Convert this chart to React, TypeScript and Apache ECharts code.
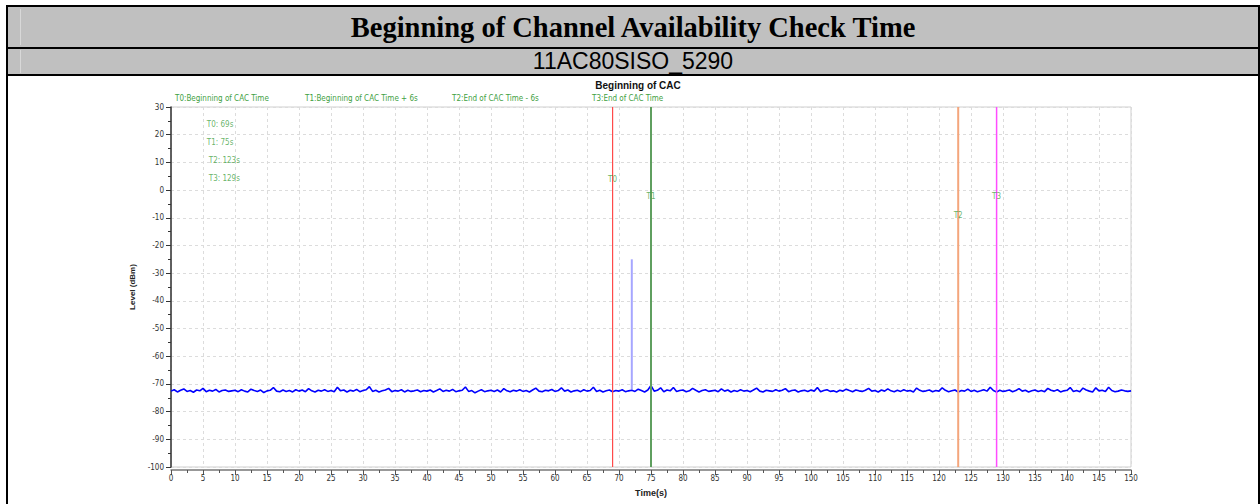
import React, { useEffect, useRef } from "react";
import * as echarts from "echarts";

const TITLE = "Beginning of Channel Availability Check Time";
const SUBTITLE = "11AC80SISO_5290";
const CHART_TITLE = "Beginning of CAC";
const LEGEND_TEXTS = ["T0:Beginning of CAC Time", "T1:Beginning of CAC Time + 6s", "T2:End of CAC Time - 6s", "T3:End of CAC Time"];
const MARKER_NAMES = ["T0", "T1", "T2", "T3"];
const MARKER_TIMES = [69, 75, 123, 129];
const MARKER_COLORS = ["#ff4a4a", "#5f9f5f", "#f4a67c", "#ff4cff"];
const MARKER_WIDTHS = [1.2, 2, 2, 1.5];
const MARKER_LABEL_Y = [4, -2.4, -9, -2.4];
const INFO_TEXTS = ["T0: 69s", "T1: 75s", "T2: 123s", "T3: 129s"];
const INFO_Y = [23.6, 17.1, 10.6, 4.1];
const INFO_X = [5.6, 5.6, 5.9, 5.9];
const SPIKE_TIME = 72;
const SPIKE_TOP = -25;
const SPIKE_BASE = -72;
const SAMPLE_STEP = 0.5;

const NOISE = [
  -72.6,-72.1,-72.9,-72.3,-71.8,-72.7,-72.4,-73.0,-72.2,-72.5,-71.6,-72.8,-72.3,-72.6,-72.0,-72.9,-72.4,-72.2,-72.7,-72.5,
  -72.3,-72.8,-72.1,-72.6,-72.9,-71.9,-72.4,-72.7,-72.2,-73.1,-72.5,-72.3,-71.3,-72.6,-72.8,-72.2,-72.7,-72.4,-72.9,-72.1,
  -72.6,-72.2,-72.8,-71.7,-72.5,-72.9,-72.3,-72.6,-72.1,-72.7,-72.4,-72.8,-71.2,-72.5,-72.2,-72.9,-72.3,-72.6,-72.0,-72.8,
  -72.4,-72.1,-71.0,-72.7,-72.3,-72.9,-72.5,-72.2,-71.6,-72.8,-72.4,-72.6,-72.1,-72.9,-72.3,-72.7,-72.5,-72.2,-72.8,-72.4,
  -72.6,-72.2,-72.9,-72.4,-71.8,-72.7,-72.3,-72.6,-72.0,-72.8,-72.5,-72.3,-71.1,-72.7,-72.4,-73.2,-72.6,-72.1,-72.8,-72.5,
  -72.3,-72.7,-72.2,-72.9,-71.7,-72.5,-72.8,-72.3,-72.6,-72.1,-72.7,-72.4,-72.9,-72.2,-71.5,-72.6,-72.8,-72.3,-72.5,-72.0,
  -72.7,-72.4,-71.4,-72.6,-72.2,-72.9,-72.5,-72.3,-72.8,-72.1,-72.6,-72.4,-71.2,-72.7,-72.3,-72.9,-72.5,-72.2,-72.8,-72.4,
  -72.6,-72.1,-72.8,-72.5,-72.3,-72.7,-71.9,-72.4,-72.9,-72.2,-70.6,-72.6,-72.3,-71.4,-72.8,-72.2,-72.5,-71.3,-72.7,-72.4,
  -72.2,-72.8,-72.5,-71.6,-72.3,-72.9,-72.4,-72.1,-72.7,-72.5,-72.3,-72.8,-71.8,-72.6,-72.2,-72.9,-72.4,-72.7,-72.1,-72.6,
  -72.4,-72.8,-72.2,-71.5,-72.6,-72.9,-72.3,-72.5,-72.7,-72.1,-72.6,-72.3,-71.7,-72.8,-72.4,-72.2,-72.9,-72.5,-72.3,-72.7,
  -72.2,-72.6,-71.3,-72.8,-72.4,-72.1,-72.7,-72.5,-72.9,-72.3,-72.6,-71.9,-72.4,-72.8,-72.2,-72.5,-72.7,-72.3,-71.6,-72.6,
  -72.4,-72.9,-72.2,-72.6,-71.8,-72.5,-72.8,-72.3,-72.7,-72.1,-72.6,-72.4,-72.9,-71.5,-72.3,-72.7,-72.5,-72.2,-72.8,-72.4,
  -72.6,-71.4,-72.3,-72.8,-72.5,-72.2,-72.9,-72.4,-72.6,-71.9,-72.7,-72.3,-72.8,-72.5,-72.1,-72.6,-71.2,-72.4,-72.9,-72.3,
  -72.7,-72.5,-72.2,-72.8,-72.4,-71.7,-72.6,-72.3,-72.9,-72.5,-72.2,-72.7,-72.4,-72.8,-71.6,-72.3,-72.6,-72.1,-72.9,-72.5,
  -72.3,-71.3,-72.7,-72.4,-72.8,-71.5,-72.2,-72.6,-72.9,-71.4,-72.5,-72.3,-72.7,-71.2,-72.4,-72.8,-72.6,-72.2,-72.5,-72.7,
  -72.5,
];

const Y_MIN = -100, Y_MAX = 30, Y_INT = 10;
const X_MIN = 0, X_MAX = 150, X_INT = 5;

const GREEN = "#3f9f3f";
const NARROW = "'Liberation Sans Narrow', 'DejaVu Sans Condensed', Arial, sans-serif";

export default function App() {
  const ref = useRef<HTMLDivElement>(null);

  useEffect(() => {
    document.body.style.margin = "0";
    if (!ref.current) return;
    const chart = echarts.init(ref.current, null, { renderer: "svg" });

    const noiseData = NOISE.map((v, i) => [i * SAMPLE_STEP, v]);

    const markerSeries = MARKER_TIMES.map((t, i) => ({
      type: "line",
      name: MARKER_NAMES[i],
      data: [[t, Y_MIN], [t, Y_MAX]],
      symbol: "none",
      lineStyle: { color: MARKER_COLORS[i], width: MARKER_WIDTHS[i] },
      z: 4,
    }));

    const legendX = [175, 305, 452, 592];

    chart.setOption({
      animation: false,
      title: {
        text: CHART_TITLE,
        left: 633,
        top: 75,
        textAlign: "center",
        textStyle: { fontSize: 10, fontWeight: "bold", fontFamily: "Arial", color: "#111" },
      },
      graphic: LEGEND_TEXTS.map((t, i) => ({
        type: "text",
        x: legendX[i],
        y: 94,
        style: { text: t, fill: GREEN, fontSize: 8, fontFamily: NARROW },
      })),
      grid: {
        left: 171,
        right: 129,
        top: 107,
        bottom: 37,
        show: true,
        borderColor: "#cfcfcf",
        borderWidth: 1,
        backgroundColor: "#fff",
      },
      xAxis: {
        type: "value",
        min: X_MIN,
        max: X_MAX,
        interval: X_INT,
        offset: 3,
        name: "Time(s)",
        nameLocation: "middle",
        nameGap: 18,
        nameTextStyle: { fontSize: 9, fontWeight: "bold", fontFamily: "Arial", color: "#222" },
        axisLine: { onZero: false, lineStyle: { color: "#777", width: 1.5 } },
        axisTick: { length: 5, lineStyle: { color: "#555" } },
        minorTick: { show: true, splitNumber: 2, length: 3, lineStyle: { color: "#555" } },
        axisLabel: { fontSize: 8, color: "#333", fontFamily: NARROW, margin: 4 },
        splitLine: { show: true, lineStyle: { color: "#dcdcdc", type: [3, 3] } },
      },
      yAxis: {
        type: "value",
        min: Y_MIN,
        max: Y_MAX,
        interval: Y_INT,
        offset: 3,
        name: "Level (dBm)",
        nameLocation: "middle",
        nameRotate: 90,
        nameGap: 30,
        nameTextStyle: { fontSize: 8, fontWeight: "bold", fontFamily: "Arial", color: "#222" },
        axisLine: { show: true, lineStyle: { color: "#333", width: 1.5 } },
        axisTick: { show: true, length: 5, lineStyle: { color: "#333" } },
        minorTick: { show: true, splitNumber: 2, length: 3, lineStyle: { color: "#333" } },
        axisLabel: { fontSize: 8, color: "#333", fontFamily: NARROW, margin: 4 },
        splitLine: { show: true, lineStyle: { color: "#dcdcdc", type: [3, 3] } },
      },
      series: [
        {
          type: "line",
          name: "Trace",
          data: noiseData,
          symbol: "none",
          lineStyle: { color: "#0000ff", width: 1.6 },
          z: 3,
        },
        {
          type: "line",
          name: "Spike",
          data: [[SPIKE_TIME, SPIKE_BASE], [SPIKE_TIME, SPIKE_TOP]],
          symbol: "none",
          lineStyle: { color: "#a6a6ff", width: 2 },
          z: 2,
        },
        ...markerSeries,
        {
          type: "scatter",
          name: "MarkerLabels",
          symbolSize: 0,
          data: MARKER_TIMES.map((t, i) => ({ value: [t, MARKER_LABEL_Y[i]], name: MARKER_NAMES[i] })),
          label: {
            show: true,
            position: "inside",
            formatter: (p: any) => p.name,
            color: GREEN,
            fontSize: 8,
            fontFamily: NARROW,
          },
          z: 6,
        },
        {
          type: "scatter",
          name: "InfoTexts",
          symbolSize: 0,
          data: INFO_TEXTS.map((t, i) => ({ value: [INFO_X[i], INFO_Y[i]], name: t })),
          label: {
            show: true,
            position: "right",
            distance: 0,
            formatter: (p: any) => p.name,
            color: GREEN,
            fontSize: 8,
            fontFamily: NARROW,
          },
          z: 6,
        },
      ],
    });
    return () => chart.dispose();
  }, []);

  const black = "#000";
  return (
    <div style={{ position: "relative", width: 1260, height: 504, overflow: "hidden", background: "#fff" }}>
      <div ref={ref} style={{ position: "absolute", left: 0, top: 0, width: 1260, height: 504 }} />
      <div style={{ position: "absolute", left: 8, top: 7, width: 1250, height: 40, background: "#c0c0c0" }} />
      <div style={{ position: "absolute", left: 8, top: 49, width: 1250, height: 25, background: "#c0c0c0" }} />
      <div style={{ position: "absolute", left: 20, top: 9, width: 1, height: 36, background: "#d8d8d8" }} />
      <div style={{ position: "absolute", left: 20, top: 50, width: 1, height: 23, background: "#d8d8d8" }} />
      <div style={{ position: "absolute", left: 6, top: 5, width: 1254, height: 2, background: black }} />
      <div style={{ position: "absolute", left: 6, top: 47, width: 1254, height: 2, background: black }} />
      <div style={{ position: "absolute", left: 6, top: 74, width: 1254, height: 2, background: black }} />
      <div style={{ position: "absolute", left: 6, top: 5, width: 2, height: 499, background: black }} />
      <div style={{ position: "absolute", left: 1258, top: 5, width: 2, height: 499, background: black }} />
      <div style={{ position: "absolute", left: 8, top: 7, width: 1250, height: 40, textAlign: "center", lineHeight: "41px", fontFamily: "'Liberation Serif', 'Times New Roman', serif", fontWeight: "bold", fontSize: 28.5, color: "#000", whiteSpace: "nowrap" }}>{TITLE}</div>
      <div style={{ position: "absolute", left: 8, top: 48, width: 1250, height: 26, textAlign: "center", lineHeight: "26px", fontFamily: "'Liberation Sans', Arial, sans-serif", fontSize: 23, color: "#000", whiteSpace: "nowrap" }}>{SUBTITLE}</div>
    </div>
  );
}
